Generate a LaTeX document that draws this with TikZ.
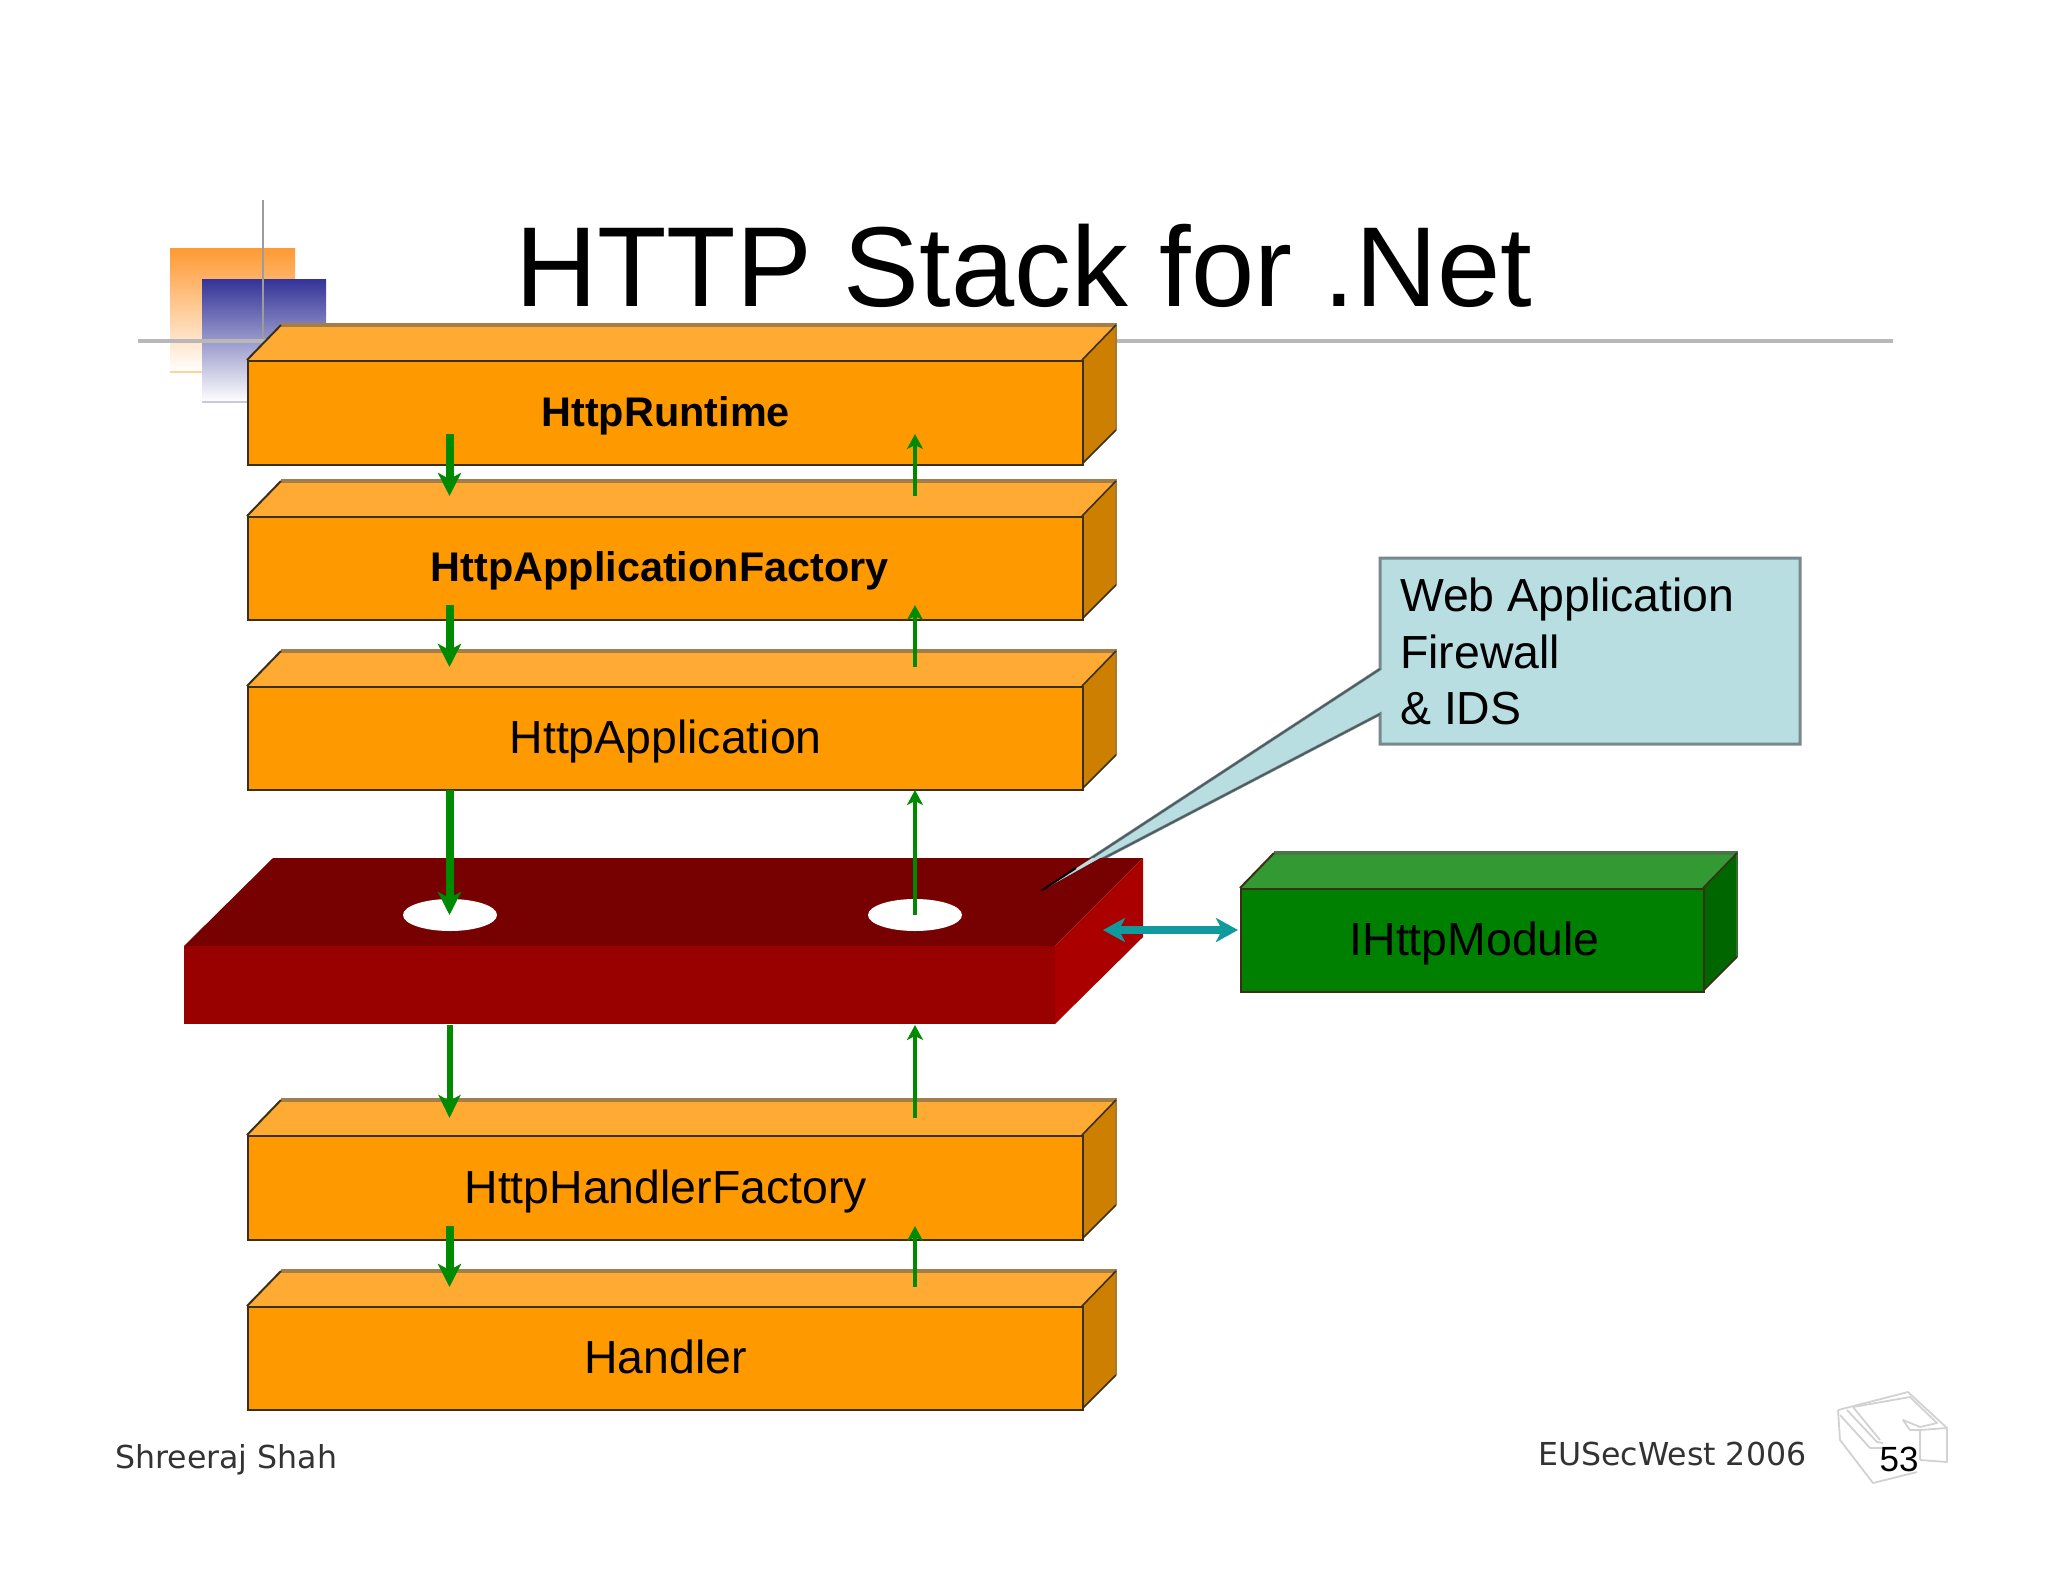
\documentclass[tikz,border=0pt]{standalone}
\usepackage{fontspec}
\setmainfont{Liberation Sans}
\newfontfamily\footfont{DejaVu Sans}
\usetikzlibrary{arrows.meta,calc}
\definecolor{orfront}{HTML}{FF9900}
\definecolor{ortop}{HTML}{FFAA33}
\definecolor{orside}{HTML}{CC7F00}
\definecolor{grfront}{HTML}{008000}
\definecolor{grtop}{HTML}{339933}
\definecolor{grside}{HTML}{006600}
\definecolor{flow}{HTML}{008A00}
\definecolor{tealflow}{HTML}{109A9E}
\definecolor{boxedge}{HTML}{3A3018}
\definecolor{calloutfill}{HTML}{B9DEE2}
\definecolor{calloutedge}{HTML}{78898E}
\definecolor{pointeredge}{HTML}{4A5A5E}
\definecolor{rulegrey}{HTML}{B8B8B8}
\definecolor{iconline}{HTML}{D2D2D2}
\tikzset{
  downflow/.style={draw=flow,line width=8pt,-{Stealth[length=23pt,width=23pt,inset=6pt]}},
  downthin/.style={draw=flow,line width=6pt,-{Stealth[length=23pt,width=22pt,inset=6pt]}},
  upflow/.style={draw=flow,line width=4pt,-{Stealth[length=15pt,width=16pt,inset=4pt]}},
  modflow/.style={draw=tealflow,line width=8pt,{Stealth[length=22pt,width=24pt,inset=6pt]}-{Stealth[length=22pt,width=24pt,inset=6pt]}},
  boxtext/.style={font=\fontsize{46.4}{56}\selectfont,text=black,text height=38pt,text depth=8pt},
  boldtext/.style={font=\fontsize{41.4}{50}\selectfont\bfseries,text=black,text height=34pt,text depth=8pt},
  labeltext/.style={font=\fontsize{46.4}{56.4}\selectfont,text=black},
  foot/.style={font=\footfont\fontsize{31.6}{36}\selectfont,text=black!80,inner sep=0pt},
  icon/.style={draw=iconline,line width=1.8pt,line join=round}
}
% name, x1, y1, x2, y2, front, top, side, font style, text
\newcommand{\cuboid}[9]{%
  \def\cbName{#1}\def\cbA{#2}\def\cbB{#3}\def\cbC{#4}\def\cbD{#5}\def\cbF{#6}\def\cbT{#7}\def\cbS{#8}\def\cbStyle{#9}\cuboidrest}
\newcommand{\cuboidrest}[1]{%
  \fill[\cbT] (\cbA,\cbB) -- ++(34,-35) -- (\cbC+34,\cbB-35) -- (\cbC,\cbB) -- cycle;
  \draw[draw=\cbT!55!black!80,line width=3.5pt] (\cbA+34,\cbB-35) -- (\cbC+35,\cbB-35);
  \fill[\cbS] (\cbC,\cbB) -- (\cbC+34,\cbB-35) -- (\cbC+34,\cbD-34) -- (\cbC,\cbD) -- cycle;
  \draw[\cbS!70!black!80,line width=2.4pt] (\cbC+34,\cbB-35) -- (\cbC+34,\cbD-34);
  \draw[boxedge,line width=2pt] (\cbA,\cbB) -- (\cbA+34,\cbB-35);
  \draw[boxedge,line width=1.6pt] (\cbC,\cbB) -- (\cbC+34,\cbB-35) (\cbC+34,\cbD-34) -- (\cbC,\cbD);
  \node[draw=boxedge,line width=2.4pt,fill=\cbF,inner sep=0pt,anchor=north west,
        minimum width=\cbC pt-\cbA pt,minimum height=\cbD pt-\cbB pt,\cbStyle] (\cbName) at (\cbA,\cbB) {#1};
}
\begin{document}
\begin{tikzpicture}[x=1pt,y=-1pt]
\useasboundingbox (0,0) rectangle (2048,1582);
\fill[white] (0,0) rectangle (2048,1582);

% slide decoration
\shade[top color={rgb,255:red,255;green,153;blue,51},bottom color=white] (170,248) rectangle (295,372);
\draw[draw={rgb,255:red,255;green,210;blue,150},line width=1.5pt] (170,372) -- (202,372);
\shade[top color={rgb,255:red,51;green,51;blue,153},bottom color=white] (202,279) rectangle (326,402);
\draw[draw={rgb,255:red,200;green,200;blue,225},line width=1.5pt] (202,402) -- (326,402);
\draw[rulegrey!85!black,line width=2.5pt] (263,200) -- (263,341);
\draw[rulegrey,line width=4pt] (138,341) -- (1893,341);

% title
\node[font=\fontsize{113.7}{130}\selectfont,anchor=base west,inner sep=0pt] (title) at (515,306) {HTTP Stack for .Net};

% page furniture
\node[foot,anchor=base west] (author) at (115,1468) {Shreeraj Shah};
\node[foot,anchor=base west] (event) at (1538,1465) {EUSecWest 2006};
\draw[icon] (1838,1410) -- (1908,1392) -- (1947,1428) -- (1947,1462) -- (1920,1460);
\draw[icon] (1838,1410) -- (1840,1440) -- (1873,1483) -- (1917,1472);
\draw[icon] (1853,1407) -- (1910,1397) -- (1937,1423) -- (1920,1427) -- (1903,1420) -- (1910,1430) -- (1920,1430) -- (1947,1428);
\draw[icon] (1920,1430) -- (1920,1460);
\draw[icon] (1840,1415) -- (1870,1448) -- (1882,1448);
\draw[icon] (1847,1410) -- (1877,1442) -- (1883,1443);
\draw[icon] (1853,1407) -- (1880,1440);
\node[font=\fontsize{35}{40}\selectfont,inner sep=0pt] (page) at (1899,1459) {53};

% callout
\draw[draw=calloutedge,fill=calloutfill,line width=3pt,line join=miter] (1380,558) -- (1800,558) -- (1800,744) -- (1380,744) -- (1380,714) -- (1041,891) -- (1380,669) -- cycle;
\draw[pointeredge,line width=1.6pt] (1380,714) -- (1041,891) -- (1380,669);

% red block
\fill[fill={rgb,255:red,119;green,0;blue,0}] (184,946) -- (273,858) -- (1143,858) -- (1055,946) -- cycle;
\fill[fill={rgb,255:red,153;green,0;blue,0}] (184,946) rectangle (1055,1024);
\fill[fill={rgb,255:red,170;green,0;blue,0}] (1055,946) -- (1143,858) -- (1143,937) -- (1055,1024) -- cycle;
\fill[calloutfill] (1041,891) -- (1100,858) -- (1092,858) -- cycle;
\draw[black,line width=2pt] (1041,891) -- (1076,868);
\fill[white] (450,915) ellipse [x radius=47,y radius=16];
\fill[white] (915,915) ellipse [x radius=47,y radius=16];

% stack
\cuboid{runtime}{247}{360}{1082}{464}{orfront}{ortop}{orside}{boldtext}{HttpRuntime}
\cuboid{factory}{247}{516}{1082}{619}{orfront}{ortop}{orside}{boldtext}{\kern-12pt HttpApplicationFactory}
\cuboid{application}{247}{686}{1082}{789}{orfront}{ortop}{orside}{boxtext}{HttpApplication}
\cuboid{handlerfactory}{247}{1135}{1082}{1239}{orfront}{ortop}{orside}{boxtext}{HttpHandlerFactory}
\cuboid{handler}{247}{1306}{1082}{1409}{orfront}{ortop}{orside}{boxtext}{Handler}
\cuboid{module}{1240}{888}{1703}{991}{grfront}{grtop}{grside}{boxtext}{\kern4pt IHttpModule}

\node[labeltext,anchor=north west,align=left,inner sep=0pt] (calloutlabel) at (1400,578) {Web Application\\Firewall\\\& IDS};

% connector ends
\foreach \nm/\yy in {a/434,b/496,c/605,d/667,e/790,f/915,g/1025,h/1118,i/1226,j/1287}{
  \coordinate (dn\nm) at (449.5,\yy);
  \coordinate (up\nm) at (915,\yy);
}
\coordinate (modL) at (1103,930);
\coordinate (modR) at (1238,930);

\draw[downflow] (dna) -- (dnb);
\draw[upflow] (upb) -- (upa);
\draw[downflow] (dnc) -- (dnd);
\draw[upflow] (upd) -- (upc);
\draw[downflow] (dne) -- (dnf);
\draw[upflow] (upf) -- (upe);
\draw[downthin] (dng) -- (dnh);
\draw[upflow] (uph) -- (upg);
\draw[downflow] (dni) -- (dnj);
\draw[upflow] (upj) -- (upi);
\draw[modflow] (modL) -- (modR);
\end{tikzpicture}
\end{document}
